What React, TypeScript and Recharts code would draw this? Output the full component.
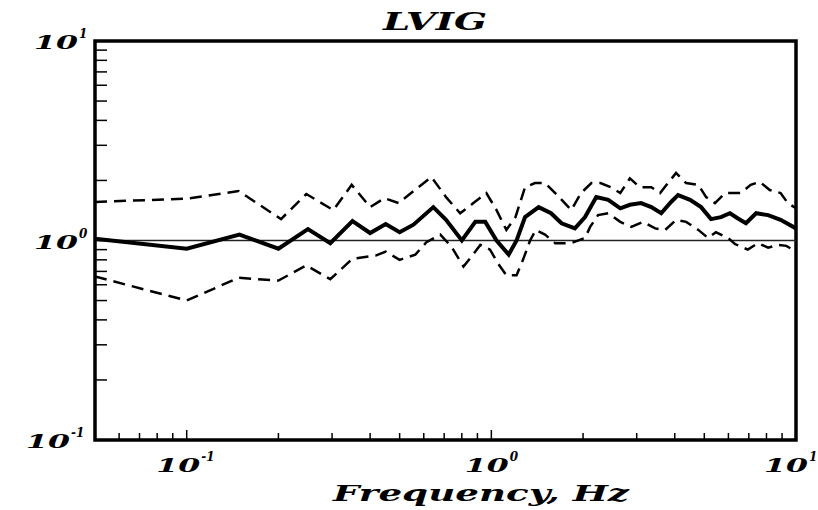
import React from "react";
import {
  LineChart,
  Line,
  XAxis,
  YAxis,
  ReferenceLine,
  ReferenceArea,
  Customized,
} from "recharts";

// mean response (thick solid)
const meanFreq = [
  0.05, 0.1, 0.149, 0.2, 0.25, 0.296, 0.35, 0.4, 0.45, 0.5, 0.555, 0.645, 0.71, 0.8,
  0.886, 0.955, 1.04, 1.14, 1.21, 1.29, 1.43, 1.57, 1.7, 1.88, 2.03, 2.21, 2.42, 2.65,
  2.85, 3.1, 3.35, 3.61, 3.89, 4.1, 4.49, 4.88, 5.26, 5.67, 6.07, 6.45, 6.85, 7.4, 8.1,
  8.9, 10,
];
const meanVal = [
  1.02, 0.91, 1.07, 0.91, 1.14, 0.97, 1.25, 1.09, 1.21, 1.1, 1.2, 1.47, 1.27, 1.0,
  1.24, 1.24, 1.0, 0.85, 1.0, 1.31, 1.47, 1.37, 1.22, 1.15, 1.31, 1.65, 1.6, 1.45,
  1.51, 1.54, 1.47, 1.37, 1.56, 1.69, 1.6, 1.47, 1.28, 1.31, 1.37, 1.29, 1.22, 1.37, 1.34,
  1.27, 1.15,
];

// upper bound (dashed)
const upperFreq = [
  0.05, 0.1, 0.148, 0.204, 0.247, 0.303, 0.348, 0.4, 0.446, 0.496, 0.576, 0.636, 0.71,
  0.79, 0.873, 0.963, 1.04, 1.12, 1.2, 1.29, 1.39, 1.5, 1.62, 1.83, 1.97, 2.13, 2.28,
  2.47, 2.65, 2.85, 3.07, 3.35, 3.58, 3.8, 4.04, 4.36, 4.78, 5.07, 5.42, 5.85, 6.6, 7.1,
  7.6, 8.2, 8.9, 9.4, 10,
];
const upperVal = [
  1.56, 1.62, 1.77, 1.28, 1.71, 1.42, 1.9, 1.47, 1.63, 1.54, 1.85, 2.08, 1.65,
  1.37, 1.54, 1.73, 1.42, 1.13, 1.31, 1.85, 1.94, 1.94, 1.73, 1.42, 1.73, 1.94, 1.94,
  1.85, 1.73, 2.05, 1.85, 1.85, 1.73, 1.94, 2.18, 1.94, 1.9, 1.65, 1.54, 1.73, 1.73, 1.9,
  1.97, 1.79, 1.73, 1.54, 1.45,
];

// lower bound (dashed)
const lowerFreq = [
  0.05, 0.1, 0.148, 0.2, 0.247, 0.296, 0.35, 0.417, 0.45, 0.5, 0.563, 0.612, 0.68, 0.74,
  0.81, 0.86, 0.92, 0.99, 1.05, 1.12, 1.21, 1.27, 1.34, 1.4, 1.5, 1.62, 1.83, 2.03, 2.11,
  2.24, 2.42, 2.65, 2.88, 3.15, 3.45, 3.72, 4.04, 4.36, 4.78, 5.14, 5.46, 5.99, 6.3,
  6.95, 7.5, 8.1, 8.7, 9.3, 10,
];
const lowerVal = [
  0.66, 0.5, 0.65, 0.63, 0.75, 0.64, 0.81, 0.84, 0.88, 0.8, 0.85, 0.98, 1.07, 0.93,
  0.74, 0.83, 0.95, 0.9, 0.77, 0.67, 0.67, 0.8, 1.0, 1.13, 1.07, 0.97, 0.97, 1.03, 1.17,
  1.34, 1.37, 1.24, 1.17, 1.24, 1.15, 1.13, 1.27, 1.24, 1.13, 1.03, 1.1, 1.03, 0.96,
  0.9, 0.97, 0.92, 0.95, 0.94, 0.88,
];

const xTicks = [
  0.05, 0.06, 0.07, 0.08, 0.09, 0.1, 0.2, 0.3, 0.4, 0.5, 0.6, 0.7, 0.8, 0.9, 1, 2, 3, 4,
  5, 6, 7, 8, 9, 10,
];
const yTicks = [
  0.1, 0.2, 0.3, 0.4, 0.5, 0.6, 0.7, 0.8, 0.9, 1, 2, 3, 4, 5, 6, 7, 8, 9, 10,
];

const toRows = (fs: number[], vs: number[]) => fs.map((f, i) => ({ f, v: vs[i] }));
const meanData = toRows(meanFreq, meanVal);
const upperData = toRows(upperFreq, upperVal);
const lowerData = toRows(lowerFreq, lowerVal);

const FONT = "'DejaVu Serif', serif";

const decade = (v: number) => {
  const e = Math.round(Math.log10(v));
  return { e, major: Math.abs(Math.log10(v) - e) < 1e-6 };
};

function PowerLabel({ x, y, exp, anchor }: { x: number; y: number; exp: number; anchor: "middle" | "end" }) {
  const baseW = 44;
  const sup = exp < 0 ? "-1" : String(exp);
  const supW = exp < 0 ? 16 : 8;
  const total = baseW + 1 + supW;
  let left = anchor === "middle" ? x - total / 2 : x - total;
  left = Math.min(left, 817 - total);
  return (
    <g fontFamily={FONT} fontStyle="italic" fontWeight="bold" fill="#000">
      <text x={left} y={y} fontSize={18} textLength={baseW} lengthAdjust="spacingAndGlyphs">
        10
      </text>
      <text x={left + baseW + 1} y={y - 11} fontSize={12}>
        {sup}
      </text>
    </g>
  );
}

const XTick = (props: any) => {
  const { x, y, payload } = props;
  const { e, major } = decade(payload.value);
  return (
    <g>
      <line x1={x} x2={x} y1={y} y2={y - (major ? 10 : 7)} stroke="#000" strokeWidth={1.5} />
      {major && <PowerLabel x={x} y={y + 32} exp={e} anchor="middle" />}
    </g>
  );
};

const YTick = (props: any) => {
  const { x, y, payload } = props;
  const { e, major } = decade(payload.value);
  return (
    <g>
      <line x1={x} x2={x + 12} y1={y} y2={y} stroke="#000" strokeWidth={1.5} />
      {major && <PowerLabel x={x - 8} y={y + 8} exp={e} anchor="end" />}
    </g>
  );
};

const Titles = () => (
  <g fontFamily={FONT} fontStyle="italic" fontWeight="bold" fill="#000">
    <text x={435} y={30} fontSize={25} textAnchor="middle" textLength={104} lengthAdjust="spacingAndGlyphs">
      LVIG
    </text>
    <text x={481} y={501} fontSize={22} textAnchor="middle" textLength={296} lengthAdjust="spacingAndGlyphs">
      Frequency, Hz
    </text>
  </g>
);

export default function App() {
  return (
    <div style={{ position: "absolute", left: 0, top: 0, width: 818, height: 510, background: "#fff" }}>
      <LineChart width={818} height={510} margin={{ top: 41, right: 22, bottom: 0, left: 35 }}>
        <XAxis
          dataKey="f"
          type="number"
          scale="log"
          domain={[0.05, 10]}
          allowDataOverflow
          ticks={xTicks}
          interval={0}
          tickSize={0}
          tickMargin={0}
          tickLine={false}
          axisLine={false}
          tick={<XTick />}
          height={70}
        />
        <YAxis
          type="number"
          scale="log"
          domain={[0.1, 10]}
          allowDataOverflow
          ticks={yTicks}
          interval={0}
          tickSize={0}
          tickMargin={0}
          tickLine={false}
          axisLine={false}
          tick={<YTick />}
          width={60}
        />
        <ReferenceLine y={1} stroke="#222" strokeWidth={1.5} />
        <Line
          data={upperData}
          dataKey="v"
          type="linear"
          stroke="#000"
          strokeWidth={2.5}
          strokeDasharray="12 7"
          dot={false}
          isAnimationActive={false}
        />
        <Line
          data={lowerData}
          dataKey="v"
          type="linear"
          stroke="#000"
          strokeWidth={2.5}
          strokeDasharray="12 7"
          dot={false}
          isAnimationActive={false}
        />
        <Line
          data={meanData}
          dataKey="v"
          type="linear"
          stroke="#000"
          strokeWidth={4}
          dot={false}
          isAnimationActive={false}
        />
        <ReferenceArea x1={0.05} x2={10} y1={0.1} y2={10} fill="none" stroke="#000" strokeWidth={3.5} />
        <Customized component={Titles} />
      </LineChart>
    </div>
  );
}
